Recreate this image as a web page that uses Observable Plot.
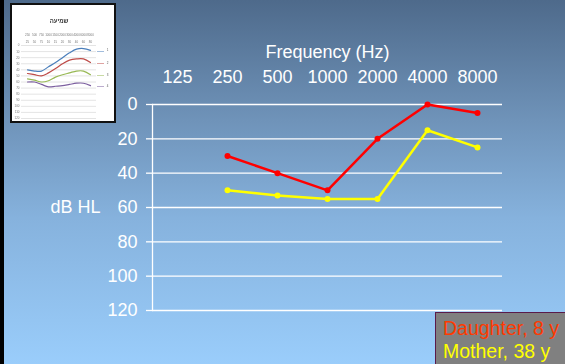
<!DOCTYPE html>
<html>
<head>
<meta charset="utf-8">
<script src="https://cdn.jsdelivr.net/npm/d3@7"></script>
<script src="https://cdn.jsdelivr.net/npm/@observablehq/plot@0.6"></script>
<style>
  html, body { margin: 0; padding: 0; }
  #stage {
    position: relative; width: 565px; height: 364px; overflow: hidden;
    background: linear-gradient(to bottom, #4e6a8b 0%, #6f93b9 33%, #86b2dd 60%, #9acdfb 100%);
    font-family: "Liberation Sans", Arial, sans-serif;
  }
  #edge { position: absolute; left: 0; top: 0; width: 4px; height: 364px; background: #000; }
  #chart { position: absolute; left: 0; top: 0; }
  #thumb {
    position: absolute; left: 10px; top: 3px; width: 102px; height: 116px;
    border: 2px solid #111; background: #fff; filter: blur(0.5px); overflow: hidden;
  }
  #legend {
    position: absolute; left: 435px; top: 312px; width: 140px; height: 60px;
    background: #808080; border: 1px solid #5a1a4a; box-sizing: border-box;
    font-size: 19.5px; line-height: 23px; padding: 4px 0 0 7px; white-space: nowrap;
  }
</style>
</head>
<body>
<div id="stage">
  <div id="chart"></div>
  <div id="edge"></div>
  <div id="thumb"></div>
  <div id="legend"></div>
</div>
<script>
// Audiogram: hearing thresholds per frequency
const freqs = ["125", "250", "500", "1000", "2000", "4000", "8000"];
const testedFreqs = ["250", "500", "1000", "2000", "4000", "8000"];
const daughterDb = [30, 40, 50, 20, 0, 5];
const motherDb = [50, 53, 55, 55, 15, 25];
const dbTicks = [0, 20, 40, 60, 80, 100, 120];
const seriesNames = ["Daughter, 8 y", "Mother, 38 y"];
const seriesColors = ["#ff0000", "#ffff00"];
const legendColors = ["#ff3a00", "#ffff00"];

// Small inset audiogram (family overview)
const insetFreqs = ["250", "500", "750", "1000", "1500", "2000", "3000", "4000", "6000", "8000"];
const insetA = [40, 42, 42, 35, 28, 20, 12, 6, 5, 8];
const insetB = [46, 48, 50, 45, 38, 30, 24, 22, 22, 28];
const insetC = [55, 57, 60, 58, 52, 48, 45, 42, 42, 48];
const insetD = [60, 60, 64, 68, 67, 66, 64, 62, 62, 66];
const insetNames = ["1", "2", "3", "4"];
const insetColors = ["#4a7ebb", "#be4b48", "#98b954", "#7d60a0"];
const insetTicks = [0, 10, 20, 30, 40, 50, 60, 70, 80, 90, 100, 110, 120];

const font = "'Liberation Sans', Arial, sans-serif";

const rows = [];
testedFreqs.forEach((f, i) => {
  rows.push({series: seriesNames[0], freq: f, db: daughterDb[i]});
  rows.push({series: seriesNames[1], freq: f, db: motherDb[i]});
});

const chart = Plot.plot({
  width: 565,
  height: 364,
  marginLeft: 152,
  marginRight: 63,
  marginTop: 104,
  marginBottom: 54,
  style: {background: "transparent", color: "white", fontFamily: font, overflow: "visible"},
  x: {domain: freqs, type: "point", padding: 0.5},
  y: {domain: [0, 120], reverse: true},
  color: {domain: seriesNames, range: seriesColors},
  marks: [
    Plot.ruleY(dbTicks, {stroke: "white", strokeWidth: 1.3}),
    Plot.frame({anchor: "left", stroke: "white", strokeWidth: 1.3}),
    Plot.axisY(dbTicks, {tickSize: 6, tickPadding: 9, fontSize: 18, stroke: "white", strokeWidth: 1.3, label: null}),
    Plot.axisX({anchor: "top", tickSize: 0, tickPadding: 22, fontSize: 18, label: null}),
    Plot.text(["Frequency (Hz)"], {frameAnchor: "top", dy: -59, fontSize: 18, fill: "white"}),
    Plot.text(["dB HL"], {frameAnchor: "left", dx: -52, textAnchor: "end", fontSize: 18, fill: "white"}),
    Plot.line(rows, {x: "freq", y: "db", z: "series", stroke: "series", strokeWidth: 2.5}),
    Plot.dot(rows, {x: "freq", y: "db", fill: "series", r: 3})
  ]
});
document.getElementById("chart").appendChild(chart);

// Legend box
const legend = document.getElementById("legend");
seriesNames.forEach((name, i) => {
  const d = document.createElement("div");
  d.textContent = name;
  d.style.color = legendColors[i];
  legend.appendChild(d);
});

// Inset chart
const insetRows = [];
[insetA, insetB, insetC, insetD].forEach((vals, s) => {
  vals.forEach((v, i) => insetRows.push({series: insetNames[s], freq: insetFreqs[i], db: v}));
});
const insetLast = insetRows.filter((d) => d.freq === insetFreqs[insetFreqs.length - 1]);

const inset = Plot.plot({
  width: 102,
  height: 116,
  marginLeft: 13,
  marginRight: 22,
  marginTop: 40,
  marginBottom: 3,
  style: {background: "white", color: "#777", fontFamily: font, overflow: "visible"},
  x: {domain: insetFreqs, type: "point", padding: 0.2},
  y: {domain: [0, 120], reverse: true},
  color: {domain: insetNames, range: insetColors},
  marks: [
    Plot.ruleY(insetTicks, {stroke: "#ddd", strokeWidth: 0.8, inset: -4}),
    Plot.axisY(insetTicks, {tickSize: 0, tickPadding: 6, fontSize: 3, label: null}),
    Plot.axisX({anchor: "top", tickSize: 0, tickPadding: 10, fontSize: 3, label: null}),
    Plot.axisX({anchor: "top", tickSize: 0, tickPadding: 3, fontSize: 3, label: null, tickFormat: (d) => d.slice(0, 2)}),
    Plot.text(["שמיעה"], {frameAnchor: "top", dy: -27, fontSize: 6, fontWeight: "bold", fill: "#333"}),
    Plot.line(insetRows, {x: "freq", y: "db", z: "series", stroke: "series", strokeWidth: 1.2, curve: "catmull-rom"}),
    Plot.text(insetLast, {x: "freq", y: "db", text: () => "—", fill: "series", dx: 10, fontSize: 7}),
    Plot.text(insetLast, {x: "freq", y: "db", text: "series", dx: 17, fontSize: 3, fill: "#555"})
  ]
});
document.getElementById("thumb").appendChild(inset);
</script>
</body>
</html>
